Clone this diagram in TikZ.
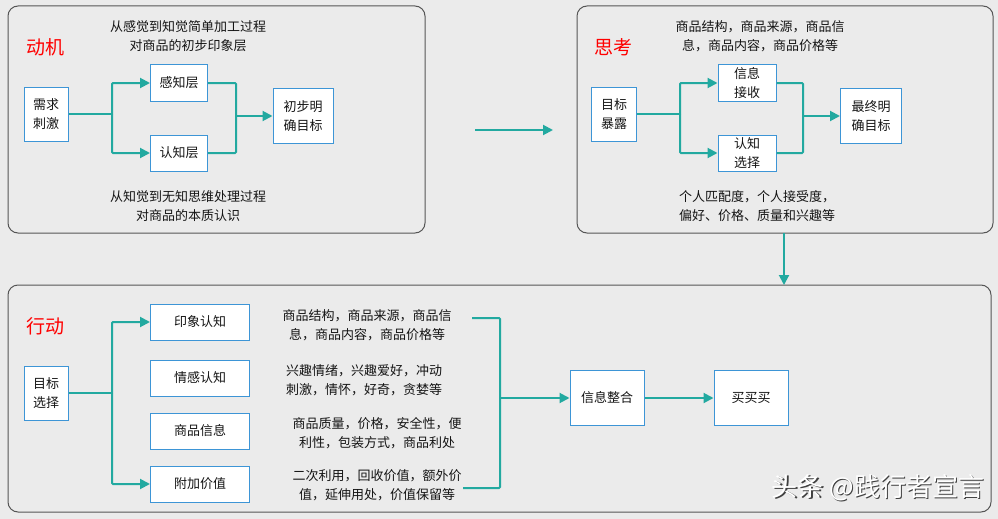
\documentclass[tikz,border=0pt]{standalone}
\usepackage{fontspec}
\setmainfont{Noto Sans CJK SC}
\usetikzlibrary{arrows.meta}
\definecolor{bgc}{HTML}{EBEBEB}
\definecolor{teal2}{HTML}{22A9A0}
\definecolor{boxb}{HTML}{3D95D6}
\definecolor{frm}{HTML}{555555}
\definecolor{txt}{HTML}{151515}
\begin{document}
\begin{tikzpicture}[x=1pt,y=-1pt,
  frame/.style={draw=frm,line width=1pt,rounded corners=10pt},
  bx/.style={draw=boxb,fill=white,line width=1pt,inner sep=0pt,align=center,
    font=\fontsize{13}{19}\selectfont,text=txt},
  lbl/.style={align=center,font=\fontsize{13}{19}\selectfont,text=txt,inner sep=0pt},
  ttl/.style={font=\fontsize{19}{22}\selectfont,text=red,inner sep=0pt,anchor=west},
  ln/.style={draw=teal2,line width=2pt,rounded corners=1pt},
  arr/.style={ln,-{Triangle[length=10pt,width=10pt]}}]
\useasboundingbox (0,0) rectangle (998,519);
\fill[bgc] (0,0) rectangle (998,519);
% frames
\draw[frame] (8,6) rectangle (425,233);
\draw[frame] (577,6) rectangle (993,233);
\draw[frame] (8,285) rectangle (991,512);
% ---------- frame 1
\node[ttl] (t1) at (26,47) {动机};
\node[lbl] (d1) at (188,36) {从感觉到知觉简单加工过程\\对商品的初步印象层};
\node[lbl] (d2) at (188,206) {从知觉到无知思维处理过程\\对商品的本质认识};
\node[bx,minimum width=44pt,minimum height=54pt] (xq) at (46,114) {需求\\刺激};
\node[bx,minimum width=57pt,minimum height=36pt] (gz) at (179,83) {感知层};
\node[bx,minimum width=57pt,minimum height=36pt] (rz) at (179,153) {认知层};
\node[bx,minimum width=60pt,minimum height=55pt] (cb) at (303,116) {初步明\\确目标};
\coordinate (j1) at (112,114);
\coordinate (j2) at (236,116);
\draw[ln] (xq.east) -- (j1);
\draw[arr] (j1) |- (gz.west);
\draw[arr] (j1) |- (rz.west);
\draw[ln] (gz.east) -| (j2);
\draw[ln] (rz.east) -| (j2);
\draw[arr] (j2) -- (cb.west);
% arrow between frames
\coordinate (a1) at (475,130);
\coordinate (a2) at (553,130);
\draw[arr] (a1) -- (a2);
% ---------- frame 2
\node[ttl] (t2) at (594,47) {思考};
\node[lbl] (d3) at (760,36) {商品结构，商品来源，商品信\\息，商品内容，商品价格等};
\node[lbl,align=left] (d4) at (757,206) {个人匹配度，个人接受度，\\偏好、价格、质量和兴趣等};
\node[bx,minimum width=45pt,minimum height=54pt] (mb) at (614,114) {目标\\暴露};
\node[bx,minimum width=58pt,minimum height=36pt] (xx) at (747,83) {信息\\接收};
\node[bx,minimum width=58pt,minimum height=36pt] (rx) at (747,153) {认知\\选择};
\node[bx,minimum width=61pt,minimum height=55pt] (zz) at (871,116) {最终明\\确目标};
\coordinate (j3) at (680,114);
\coordinate (j4) at (803,116);
\draw[ln] (mb.east) -- (j3);
\draw[arr] (j3) |- (xx.west);
\draw[arr] (j3) |- (rx.west);
\draw[ln] (xx.east) -| (j4);
\draw[ln] (rx.east) -| (j4);
\draw[arr] (j4) -- (zz.west);
% arrow down
\coordinate (a3) at (784,233);
\coordinate (a4) at (784,285);
\draw[arr] (a3) -- (a4);
% ---------- frame 3
\node[ttl] (t3) at (26,326) {行动};
\node[bx,minimum width=44pt,minimum height=54pt] (mx) at (46,393) {目标\\选择};
\node[bx,minimum width=99pt,minimum height=36pt] (yx) at (200,322) {印象认知};
\node[bx,minimum width=99pt,minimum height=36pt] (qg) at (200,378) {情感认知};
\node[bx,minimum width=99pt,minimum height=36pt] (sp) at (200,431) {商品信息};
\node[bx,minimum width=99pt,minimum height=36pt] (fj) at (200,484) {附加价值};
\coordinate (j5) at (112,393);
\draw[ln] (mx.east) -- (j5);
\draw[arr] (j5) |- (yx.west);
\draw[arr] (j5) |- (fj.west);
\node[lbl] (e1) at (367,325) {商品结构，商品来源，商品信\\息，商品内容，商品价格等};
\node[lbl] (e2) at (364,380) {兴趣情绪，兴趣爱好，冲动\\刺激，情怀，好奇，贪婪等};
\node[lbl] (e3) at (377,433) {商品质量，价格，安全性，便\\利性，包装方式，商品利处};
\node[lbl] (e4) at (377,485) {二次利用，回收价值，额外价\\值，延伸用处，价值保留等};
\node[bx,minimum width=74pt,minimum height=55pt] (zh) at (607,398) {信息整合};
\node[bx,minimum width=74pt,minimum height=55pt] (mm) at (751,398) {买买买};
\coordinate (b1) at (472,318);
\coordinate (b2) at (500,318);
\coordinate (b3) at (500,488);
\coordinate (b4) at (463,488);
\coordinate (b5) at (500,398);
\draw[ln] (b1) -- (b2) -- (b3) -- (b4);
\draw[arr] (b5) -- (zh.west);
\draw[arr] (zh.east) -- (mm.west);
% watermark
\node[font=\fontsize{26}{28}\selectfont,text=black!75,inner sep=0pt] (wm0) at (879.2,489.2) {头条 @践行者宣言};
\node[font=\fontsize{26}{28}\selectfont,text=white,inner sep=0pt] (wm) at (878,488) {头条 @践行者宣言};
\end{tikzpicture}
\end{document}
